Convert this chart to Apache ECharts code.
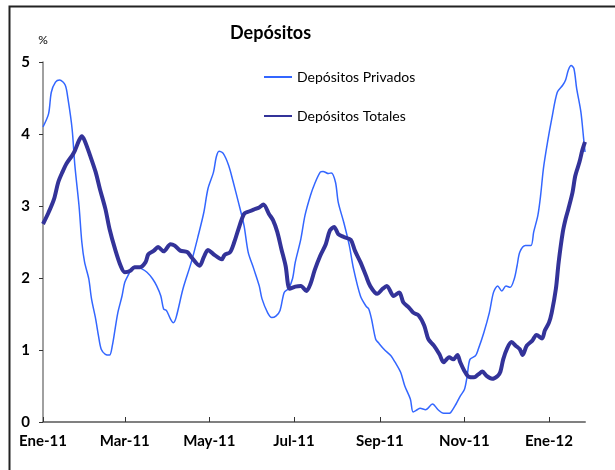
<!DOCTYPE html>
<html>
<head>
<meta charset="utf-8">
<title>Depósitos</title>
<script src="https://cdn.jsdelivr.net/npm/echarts@6/dist/echarts.min.js"></script>
<style>
  html, body { margin: 0; padding: 0; background: #fff; }
  #myChart { width: 615px; height: 470px; }
</style>
</head>
<body>
<div id="myChart"></div>
<script>
// meses en español para las etiquetas del eje X
var meses = ["Ene", "Feb", "Mar", "Abr", "May", "Jun", "Jul", "Ago", "Sep", "Oct", "Nov", "Dic"];
// número de días mostrados desde el 1 de enero de 2011
var totalDias = 392;
// [día, %]
var privados = [
  [0, 4.10], [4, 4.28], [6, 4.58], [9, 4.72], [12, 4.75], [16, 4.68], [18, 4.49], [21, 4.07],
  [23, 3.56], [26, 3.0], [28, 2.5], [30, 2.22], [33, 1.99], [35, 1.71], [38, 1.43], [40, 1.20],
  [42, 1.01], [45, 0.94], [48, 0.93], [50, 1.06], [52, 1.29], [54, 1.52], [57, 1.75], [59, 1.94],
  [62, 2.06], [64, 2.13], [68, 2.15], [71, 2.13], [75, 2.08], [79, 1.99], [82, 1.89], [85, 1.75],
  [87, 1.57], [89, 1.55], [92, 1.43], [94, 1.38], [96, 1.45], [101, 1.85], [107, 2.22], [112, 2.59],
  [116, 2.91], [119, 3.24], [123, 3.47], [125, 3.68], [127, 3.76], [130, 3.73], [134, 3.56], [137, 3.35],
  [141, 3.05], [145, 2.73], [148, 2.36], [152, 2.13], [156, 1.89], [158, 1.71], [162, 1.52], [165, 1.45],
  [168, 1.47], [171, 1.55], [174, 1.80], [177, 1.85], [180, 1.99], [182, 2.22], [186, 2.54], [189, 2.87],
  [193, 3.15], [196, 3.31], [200, 3.47], [202, 3.48], [206, 3.45], [208, 3.46], [211, 3.33], [213, 3.05],
  [217, 2.77], [221, 2.45], [224, 2.13], [229, 1.75], [233, 1.61], [235, 1.57], [237, 1.43], [240, 1.15],
  [242, 1.10], [246, 1.01], [251, 0.92], [254, 0.83], [258, 0.69], [261, 0.50], [265, 0.32], [267, 0.14],
  [270, 0.17], [272, 0.19], [276, 0.17], [281, 0.25], [285, 0.17], [289, 0.12], [292, 0.12], [294, 0.13],
  [298, 0.25], [301, 0.36], [304, 0.45], [306, 0.64], [308, 0.87], [312, 0.92], [314, 1.01], [318, 1.24],
  [322, 1.52], [325, 1.80], [328, 1.89], [331, 1.82], [334, 1.89], [337, 1.87], [340, 1.99], [342, 2.17],
  [344, 2.36], [348, 2.45], [352, 2.45], [354, 2.64], [357, 2.87], [359, 3.15], [361, 3.52], [364, 3.89],
  [367, 4.21], [371, 4.58], [375, 4.68], [377, 4.75], [379, 4.89], [381, 4.95], [383, 4.91], [385, 4.63],
  [388, 4.31], [390, 3.94], [391, 3.75]
];
var totales = [
  [0, 2.75], [4, 2.91], [8, 3.10], [11, 3.33], [14, 3.47], [17, 3.59], [21, 3.70], [23, 3.77],
  [26, 3.91], [28, 3.97], [30, 3.91], [34, 3.70], [38, 3.47], [41, 3.24], [45, 2.96], [48, 2.68],
  [52, 2.40], [56, 2.17], [59, 2.08], [63, 2.10], [66, 2.15], [70, 2.15], [74, 2.22], [76, 2.33],
  [80, 2.38], [83, 2.43], [87, 2.37], [92, 2.47], [95, 2.45], [99, 2.38], [104, 2.36], [107, 2.29],
  [113, 2.17], [116, 2.29], [119, 2.39], [123, 2.33], [129, 2.26], [131, 2.32], [135, 2.36], [138, 2.50],
  [141, 2.68], [145, 2.89], [148, 2.92], [152, 2.95], [156, 2.98], [159, 3.02], [163, 2.89], [166, 2.80],
  [169, 2.64], [172, 2.40], [175, 2.17], [178, 1.85], [182, 1.88], [186, 1.89], [190, 1.82], [193, 1.92],
  [196, 2.11], [200, 2.31], [204, 2.47], [207, 2.66], [210, 2.71], [213, 2.61], [217, 2.57], [222, 2.53],
  [225, 2.38], [229, 2.22], [233, 2.03], [236, 1.89], [241, 1.78], [245, 1.85], [248, 1.89], [253, 1.75],
  [257, 1.80], [260, 1.66], [264, 1.59], [267, 1.52], [271, 1.48], [275, 1.34], [278, 1.15], [282, 1.06],
  [286, 0.94], [289, 0.83], [293, 0.90], [296, 0.87], [299, 0.93], [301, 0.83], [304, 0.71], [307, 0.63],
  [311, 0.62], [314, 0.66], [317, 0.70], [320, 0.64], [324, 0.60], [328, 0.64], [330, 0.70], [332, 0.87],
  [335, 1.03], [338, 1.11], [341, 1.06], [344, 1.01], [346, 0.93], [349, 1.06], [353, 1.13], [356, 1.21],
  [360, 1.16], [362, 1.27], [365, 1.38], [367, 1.52], [370, 1.85], [372, 2.22], [375, 2.64], [377, 2.82],
  [379, 2.96], [382, 3.19], [384, 3.42], [387, 3.61], [389, 3.77], [391, 3.89]
];

// categorías diarias "2011-01-01" ...
var fechas = [];
for (var i = 0; i < totalDias; i++) {
  var d = new Date(Date.UTC(2011, 0, 1 + i));
  fechas.push(d.toISOString().slice(0, 10));
}
// marca solo el primer día de los meses impares (Ene, Mar, May...)
function esMarca(index, value) {
  var m = parseInt(value.slice(5, 7), 10) - 1;
  return value.slice(8, 10) === "01" && m % 2 === 0;
}

var fuente = "Lato, 'Open Sans', sans-serif";
var myChart = echarts.init(document.getElementById("myChart"));
myChart.setOption({
  animation: false,
  textStyle: { fontFamily: fuente },
  title: {
    text: "Depósitos",
    left: 230,
    top: 24,
    padding: 0,
    textStyle: { fontFamily: fuente, fontSize: 18, fontWeight: "bold", color: "#000" }
  },
  legend: {
    orient: "vertical",
    left: 263,
    top: 70,
    itemWidth: 28,
    itemHeight: 14,
    itemGap: 25,
    padding: 0,
    itemStyle: { opacity: 0 }, // solo la línea, sin círculo
    textStyle: { fontFamily: fuente, fontSize: 14, color: "#000" },
    data: ["Depósitos Privados", "Depósitos Totales"]
  },
  grid: { left: 43, right: 30, top: 62, bottom: 48 },
  xAxis: {
    type: "category",
    data: fechas,
    boundaryGap: false,
    axisLine: { lineStyle: { color: "#808080", width: 2 } },
    axisTick: { inside: true, length: 5, interval: esMarca, lineStyle: { color: "#333" } },
    axisLabel: {
      interval: esMarca,
      margin: 12,
      fontFamily: fuente,
      fontSize: 15,
      fontWeight: "bold",
      color: "#000",
      formatter: function (value) {
        return meses[parseInt(value.slice(5, 7), 10) - 1] + "-" + value.slice(2, 4);
      }
    },
    splitLine: { show: false }
  },
  yAxis: {
    type: "value",
    min: 0,
    max: 5,
    interval: 1,
    name: "%",
    nameGap: 16,
    nameTextStyle: { fontFamily: fuente, fontSize: 12, color: "#000", align: "center" },
    axisLine: { show: true, lineStyle: { color: "#808080", width: 1.5 } },
    axisTick: { show: true, length: 4, lineStyle: { color: "#333" } },
    axisLabel: { margin: 13, fontFamily: fuente, fontSize: 15, fontWeight: "bold", color: "#000" },
    splitLine: { show: false }
  },
  graphic: [{
    type: "rect",
    left: 7,
    top: 4,
    shape: { width: 700, height: 600 },
    style: { fill: null, stroke: "#222", lineWidth: 2 },
    silent: true
  }],
  series: [
    {
      name: "Depósitos Privados",
      type: "line",
      data: privados,
      smooth: 0.3,
      symbol: "none",
      lineStyle: { color: "#3366FF", width: 1.5 },
      itemStyle: { color: "#3366FF" }
    },
    {
      name: "Depósitos Totales",
      type: "line",
      data: totales,
      smooth: 0.3,
      symbol: "none",
      z: 3,
      lineStyle: { color: "#333399", width: 4 },
      itemStyle: { color: "#333399" }
    }
  ]
});
</script>
</body>
</html>
